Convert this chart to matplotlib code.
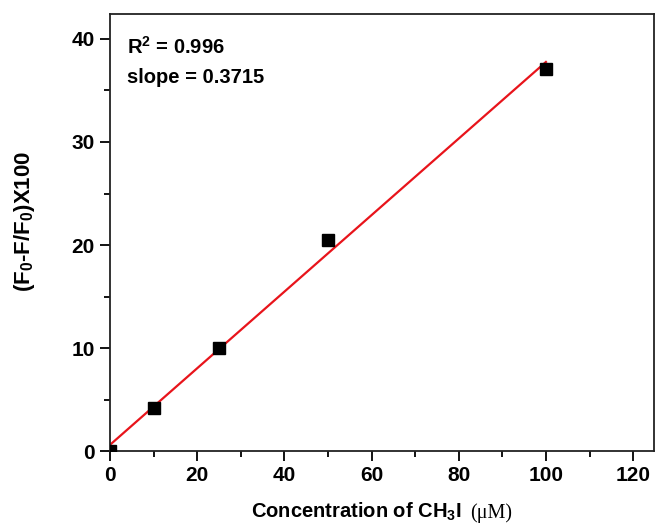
import numpy as np
import matplotlib
matplotlib.use("Agg")
import matplotlib.pyplot as plt

# Data
conc = [0, 10, 25, 50, 100]
quench = [0.0, 4.2, 10.0, 20.5, 37.1]
xticks = [0, 20, 40, 60, 80, 100, 120]
yticks = [0, 10, 20, 30, 40]
r2_text = "R$^\\mathbf{2}$ = 0.996"
slope_text = "slope = 0.3715"

plt.rcParams['font.family'] = ['Liberation Sans', 'DejaVu Sans']
plt.rcParams['font.weight'] = 'bold'
plt.rcParams['mathtext.fontset'] = 'custom'
plt.rcParams['mathtext.rm'] = 'Liberation Sans:bold'
plt.rcParams['mathtext.bf'] = 'Liberation Sans:bold'
plt.rcParams['mathtext.it'] = 'Liberation Sans:bold'

fig = plt.figure(figsize=(6.55, 5.27), dpi=100)
ax = fig.add_axes([0.168, 0.144, 0.8305, 0.829])

slope, intercept = np.polyfit(conc, quench, 1)
xf = np.array([min(conc), max(conc)])
ax.plot(xf, slope * xf + intercept, color='#e8141b', lw=1.6, zorder=2)
ax.plot(conc, quench, 's', color='black', ms=8.5, zorder=3, clip_on=True)

ax.set_xlim(0, 124.8)
ax.set_ylim(0, 42.4)
ax.set_xticks(xticks)
ax.set_yticks(yticks)
ax.set_xticks(np.arange(10, 125, 20), minor=True)
ax.set_yticks(np.arange(5, 42, 10), minor=True)
ax.tick_params(which='major', direction='out', length=7, width=1.3, labelsize=15, pad=4)
ax.tick_params(which='minor', direction='out', length=4, width=1.3)
for lab in ax.get_xticklabels() + ax.get_yticklabels():
    lab.set_fontweight('bold')
for sp in ax.spines.values():
    sp.set_linewidth(1.3)
    sp.set_color('#222222')

ax.text(0.031, 0.95, r2_text, transform=ax.transAxes, fontsize=14.5, fontweight='bold', va='top')
ax.text(0.031, 0.876, slope_text, transform=ax.transAxes, fontsize=14.5, fontweight='bold', va='top')

fig.text(0.704, 0.018, "Concentration of CH$_\\mathbf{3}$I", ha='right', va='baseline',
         fontsize=14.5, fontweight='bold')
fig.text(0.718, 0.018, "(\u03bcM)", ha='left', va='baseline', fontsize=14.5,
         fontweight='normal', family=['Liberation Serif', 'DejaVu Serif'])

fig.text(0.037, 0.579, "(F$_\\mathbf{0}$-F/F$_\\mathbf{0}$)X100", rotation=90, ha='center', va='center',
         fontsize=16, fontweight='bold')

fig.savefig("out.png", dpi=100)
